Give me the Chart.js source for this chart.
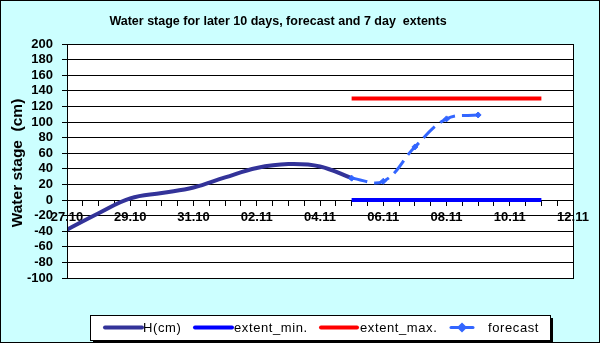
<!DOCTYPE html>
<html lang="en">
<head>
    <meta charset="UTF-8">
    <title>Water stage</title>
    <script src="https://cdn.jsdelivr.net/npm/chart.js"></script>
    <style>
        html, body { margin: 0; padding: 0; background: #ccffff; }
        #wrap { width: 600px; height: 343px; }
    </style>
</head>
<body>
    <div id="wrap"><canvas id="waterChart" width="600" height="343"></canvas></div>

    <script>
        // values (cm)
        const hDates = ['27.10', '28.10', '29.10', '30.10', '31.10', '01.11', '02.11', '03.11', '04.11', '05.11'];
        const hValues = [-38, -17, 2, 9, 16, 29, 41, 46, 43, 28];

        const extentDates = ['05.11', '06.11', '07.11', '08.11', '09.11', '10.11', '11.11'];
        const extentMin = [0, 0, 0, 0, 0, 0, 0];
        const extentMax = [130, 130, 130, 130, 130, 130, 130];

        const forecastDates = ['05.11', '06.11', '07.11', '08.11', '09.11'];
        const forecastValues = [28, 24, 68, 104, 109];

        const tickLabels = ['27.10', '29.10', '31.10', '02.11', '04.11', '06.11', '08.11', '10.11', '12.11'];

        const FONT = '"Liberation Sans", Arial, sans-serif';

        // day number counted from 27.10
        function dayIndex(s) {
            const [d, m] = s.split('.').map(Number);
            return m === 10 ? d - 27 : d + 4;
        }
        function toPoints(dates, values) {
            return dates.map((d, i) => ({ x: dayIndex(d), y: values[i] }));
        }

        const frame = {
            id: 'frame',
            beforeDraw(chart) {
                const ctx = chart.ctx, a = chart.chartArea;
                ctx.save();
                ctx.fillStyle = '#ccffff';
                ctx.fillRect(0, 0, chart.width, chart.height);
                ctx.fillStyle = '#ffffff';
                ctx.fillRect(a.left, a.top, a.right - a.left, a.bottom - a.top);
                ctx.restore();
            },
            afterDraw(chart) {
                const ctx = chart.ctx, a = chart.chartArea;
                const ds = chart.data.datasets;
                ctx.save();
                // plot border
                ctx.strokeStyle = '#000';
                ctx.lineWidth = 1;
                ctx.strokeRect(a.left + 0.5, a.top + 0.5, a.right - a.left, a.bottom - a.top);
                // outer border
                ctx.strokeRect(0.5, 0.5, chart.width - 1, chart.height - 1);

                // title
                ctx.fillStyle = '#000';
                ctx.font = 'bold 12.5px ' + FONT;
                ctx.textAlign = 'center';
                ctx.textBaseline = 'middle';
                ctx.fillText('Water stage for later 10 days, forecast and 7 day  extents', 278, 22);

                // y axis title
                ctx.save();
                ctx.translate(18, 163);
                ctx.rotate(-Math.PI / 2);
                ctx.font = 'bold 15.5px ' + FONT;
                ctx.fillText('Water stage  (cm)', 0, 0);
                ctx.restore();

                // legend
                const lx = 90, ly = 315, lw = 460, lh = 25;
                ctx.fillStyle = '#000';
                ctx.fillRect(lx + 3, ly + 3, lw, lh);
                ctx.fillStyle = '#fff';
                ctx.fillRect(lx, ly, lw, lh);
                ctx.strokeRect(lx + 0.5, ly + 0.5, lw, lh);

                const cy = ly + 12.5;
                const items = [
                    { line: [105, 142], text: 143 },
                    { line: [195, 232], text: 234 },
                    { line: [321, 357], text: 360 },
                    { line: [451, 473], text: 488 }
                ];
                ctx.font = '13px ' + FONT;
                ctx.letterSpacing = '0.6px';
                ctx.textAlign = 'left';
                ctx.textBaseline = 'middle';
                items.forEach((it, i) => {
                    const d = ds[i];
                    ctx.strokeStyle = d.borderColor;
                    ctx.lineWidth = d.borderWidth;
                    ctx.lineCap = 'round';
                    ctx.beginPath();
                    ctx.moveTo(it.line[0], cy);
                    ctx.lineTo(it.line[1], cy);
                    ctx.stroke();
                    if (d.pointRadius > 0) {
                        ctx.fillStyle = d.borderColor;
                        Chart.helpers.drawPoint(ctx, {
                            pointStyle: d.pointStyle, radius: d.pointRadius, rotation: 0, borderWidth: 1
                        }, (it.line[0] + it.line[1]) / 2, cy);
                    }
                    ctx.fillStyle = '#000';
                    ctx.fillText(d.label, it.text, cy + 1);
                });
                ctx.restore();
            }
        };

        const ctx = document.getElementById('waterChart').getContext('2d');
        new Chart(ctx, {
            type: 'line',
            data: {
                datasets: [
                    {
                        label: 'H(cm)',
                        data: toPoints(hDates, hValues),
                        borderColor: '#333399',
                        borderWidth: 4,
                        pointRadius: 0,
                        tension: 0.4,
                        order: 1
                    },
                    {
                        label: 'extent_min.',
                        data: toPoints(extentDates, extentMin),
                        borderColor: '#0000ff',
                        borderWidth: 4,
                        pointRadius: 0,
                        order: 2
                    },
                    {
                        label: 'extent_max.',
                        data: toPoints(extentDates, extentMax),
                        borderColor: '#ff0000',
                        borderWidth: 4,
                        pointRadius: 0,
                        order: 2
                    },
                    {
                        label: 'forecast',
                        data: toPoints(forecastDates, forecastValues),
                        borderColor: '#3366ff',
                        backgroundColor: '#3366ff',
                        borderWidth: 3,
                        borderDash: [16, 7],
                        pointStyle: 'rectRot',
                        pointRadius: 3,
                        pointBorderWidth: 1,
                        tension: 0.4,
                        order: 0
                    }
                ]
            },
            options: {
                responsive: false,
                animation: false,
                layout: { padding: { left: 0, right: 27, top: 44, bottom: 65 } },
                plugins: {
                    legend: { display: false },
                    title: { display: false },
                    tooltip: { enabled: false }
                },
                scales: {
                    x: {
                        type: 'linear',
                        position: { y: 0 },
                        min: 0,
                        max: 16,
                        grid: { drawOnChartArea: false, drawTicks: true, tickLength: 5, color: '#000' },
                        border: { display: true, color: '#000', width: 1 },
                        ticks: {
                            stepSize: 0.5,
                            autoSkip: false,
                            maxRotation: 0,
                            padding: 5,
                            color: '#000',
                            font: { family: FONT, size: 13, weight: 'bold' },
                            callback: (v) => (v % 2 === 0 ? tickLabels[v / 2] : '')
                        }
                    },
                    y: {
                        min: -100,
                        max: 200,
                        afterFit: (scale) => { scale.width = 67; },
                        grid: { color: '#000', tickLength: 5, drawTicks: true },
                        border: { display: true, color: '#000' },
                        ticks: {
                            stepSize: 20,
                            autoSkip: false,
                            padding: 9,
                            color: '#000',
                            font: { family: FONT, size: 13, weight: 'bold' }
                        }
                    }
                }
            },
            plugins: [frame]
        });
    </script>
</body>
</html>
